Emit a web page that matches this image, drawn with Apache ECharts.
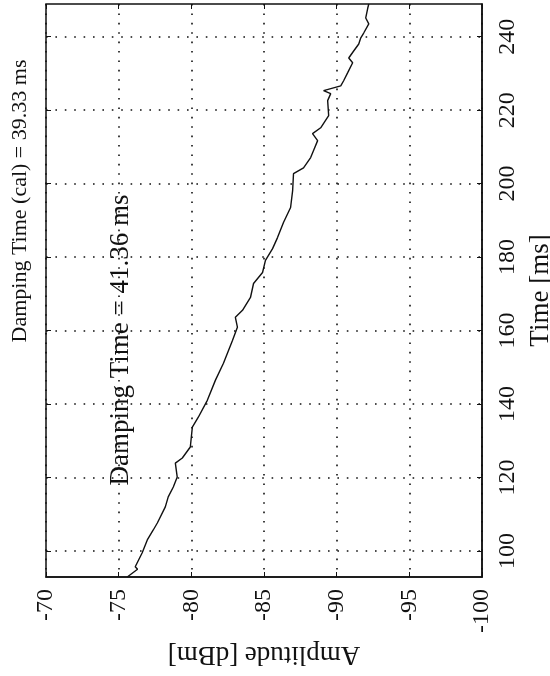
<!DOCTYPE html>
<html>
<head>
<meta charset="utf-8">
<script src="https://cdn.jsdelivr.net/npm/echarts@6/dist/echarts.min.js"></script>
<style>
html,body{margin:0;padding:0;background:#fff;}
#c{width:550px;height:676px;}
</style>
</head>
<body>
<div id="c"></div>
<script>
// Data
var timeMs = [92.9, 95.0, 95.7, 99.5, 103.0, 105.7, 107.6, 112.0, 114.7, 117.4, 120.1, 123.9, 125.3, 128.3, 133.7, 136.4, 141.0, 146.5, 151.1, 157.3, 160.9, 163.6, 165.5, 169.0, 172.8, 175.8, 179.1, 182.3, 185.3, 189.4, 193.5, 198.1, 202.7, 204.3, 207.1, 209.0, 211.7, 213.6, 215.2, 218.5, 222.6, 224.5, 225.3, 226.6, 228.0, 230.2, 232.9, 234.2, 236.1, 238.0, 239.7, 241.0, 243.5, 245.1, 247.8, 248.9];
var amplitudeDbm = [-75.59, -76.3, -76.14, -76.62, -76.97, -77.38, -77.66, -78.21, -78.41, -78.76, -79.03, -78.90, -79.38, -79.93, -80.07, -80.48, -81.10, -81.66, -82.21, -82.83, -83.17, -83.03, -83.52, -84.07, -84.28, -84.90, -85.10, -85.59, -85.93, -86.34, -86.83, -86.97, -87.03, -87.72, -88.21, -88.41, -88.69, -88.34, -88.90, -89.45, -89.38, -89.59, -89.10, -90.28, -90.48, -90.76, -91.10, -90.83, -91.17, -91.52, -91.66, -91.86, -92.21, -92.00, -92.14, -92.21];
var timeTicks = [100, 120, 140, 160, 180, 200, 220, 240];
var ampTicks = [-100, -95, -90, -85, -80, -75, -70];
var titleText = 'Damping Time (cal) = 39.33 ms';
var innerText = 'Damping Time = 41.36 ms';
var timeName = 'Time [ms]';
var ampName = 'Amplitude [dBm]';

var serif = '"Liberation Serif", "DejaVu Serif", serif';
var pts = timeMs.map(function (t, i) { return [amplitudeDbm[i], t]; });
var dotted = { color: '#111', width: 1.6, type: [1.6, 7.8] };

var chart = echarts.init(document.getElementById('c'), null, { renderer: 'canvas' });
chart.setOption({
  animation: false,
  backgroundColor: '#fff',
  grid: { left: 46, right: 68, top: 4, bottom: 99, show: true, borderColor: '#111', borderWidth: 1.5,
    containLabel: false, outerBoundsMode: 'none' },
  xAxis: [{
    type: 'value', min: -100, max: -70, interval: 5, inverse: true, position: 'bottom',
    axisLine: { show: true, lineStyle: { color: '#111', width: 1.5 } },
    axisTick: { show: true, inside: true, length: 5, lineStyle: { color: '#111' } },
    axisLabel: { show: true, rotate: 90, margin: 12, fontSize: 24, fontFamily: serif, color: '#111',
      customValues: ampTicks },
    splitLine: { show: true, lineStyle: dotted },
    name: ampName, nameLocation: 'middle', nameRotate: 180, nameGap: 64,
    nameTextStyle: { fontSize: 27, fontFamily: serif, color: '#111' }
  }, {
    type: 'value', min: -100, max: -70, interval: 5, inverse: true, position: 'top',
    axisLine: { show: false },
    axisTick: { show: true, inside: true, length: 5, lineStyle: { color: '#111' } },
    axisLabel: { show: false }, splitLine: { show: false }
  }],
  yAxis: [{
    type: 'value', min: 92.9, max: 248.9, position: 'right',
    axisLine: { show: true, lineStyle: { color: '#111', width: 1.5 } },
    axisTick: { show: true, inside: true, length: 5, lineStyle: { color: '#111' }, customValues: timeTicks },
    axisLabel: { show: true, rotate: 90, margin: 14, fontSize: 24, fontFamily: serif, color: '#111',
      customValues: timeTicks },
    splitLine: { show: true, lineStyle: dotted },
    name: timeName, nameLocation: 'middle', nameRotate: 90, nameGap: 26,
    nameTextStyle: { fontSize: 27, fontFamily: serif, color: '#111' }
  }, {
    type: 'value', min: 92.9, max: 248.9, position: 'left',
    axisLine: { show: false },
    axisTick: { show: true, inside: true, length: 5, lineStyle: { color: '#111' }, customValues: timeTicks },
    axisLabel: { show: false }, splitLine: { show: false }
  }],
  series: [{
    type: 'line', xAxisIndex: 0, yAxisIndex: 0, data: pts, showSymbol: false,
    lineStyle: { color: '#111', width: 1.4 }, z: 5
  }],
  graphic: [
    { type: 'text', x: 20, y: 201, rotation: Math.PI / 2,
      style: { text: titleText, fontSize: 22, fontFamily: serif, fill: '#111', align: 'center', verticalAlign: 'middle' } },
    { type: 'text', x: 121, y: 340, rotation: Math.PI / 2,
      style: { text: innerText, fontSize: 27, fontFamily: serif, fill: '#111', align: 'center', verticalAlign: 'middle' } }
  ]
});
</script>
</body>
</html>
